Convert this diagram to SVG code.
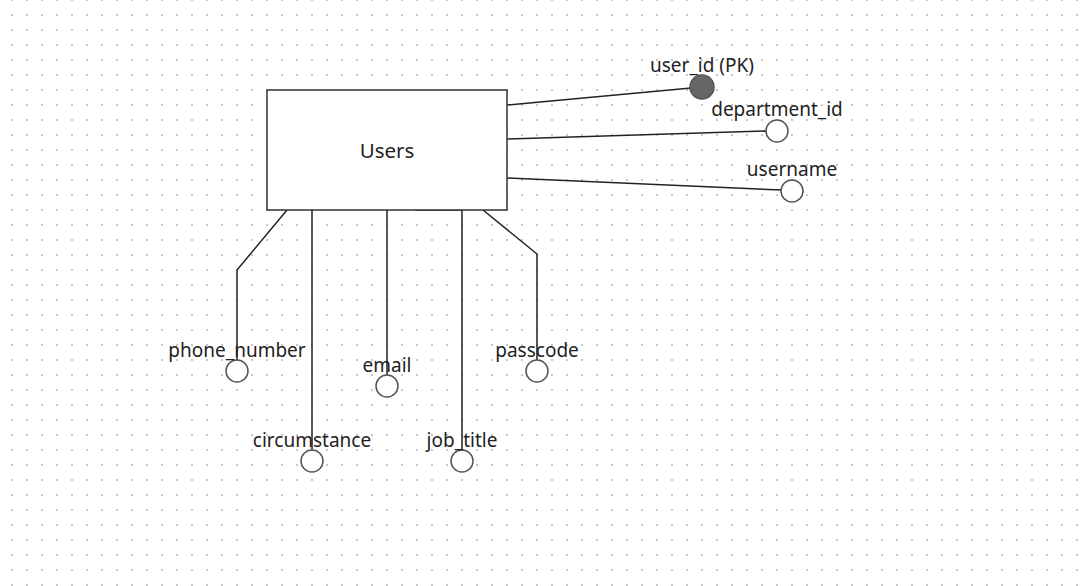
<svg xmlns="http://www.w3.org/2000/svg" width="1081" height="586" viewBox="0 0 1081 586">
<defs>
<pattern id="dots" x="11" y="-1" width="15" height="15" patternUnits="userSpaceOnUse">
<rect x="0" y="0" width="2" height="2" fill="#c8c8c8"/>
</pattern>
<style>
.lbl{font-family:"Noto Sans","Open Sans",sans-serif;font-size:19px;fill:#222;text-anchor:middle}
.edge{fill:none;stroke:#222;stroke-width:1.5}
.attr{fill:#fff;stroke:#555;stroke-width:1.5}
</style>
</defs>
<rect width="1081" height="586" fill="#fff"/>
<rect width="1081" height="586" fill="url(#dots)"/>
<g id="connectors">
<path class="edge" d="M507,105 L691,88"/>
<path class="edge" d="M507,139 L766,131"/>
<path class="edge" d="M507,178 L781,190"/>
<path class="edge" d="M287,210 L237,270 L237,360"/>
<path class="edge" d="M312,210 L312,450"/>
<path class="edge" d="M387,210 L387,375"/>
<path class="edge" d="M415,210 L462,210 L462,450"/>
<path class="edge" d="M483,210 L537,254 L537,360"/>
</g>
<g id="users">
<rect x="267" y="90" width="240" height="120" fill="#fff" stroke="#333" stroke-width="1.5"/>
<text class="lbl" x="387" y="158" style="font-size:20.5px">Users</text>
</g>
<g id="user_id">
<circle cx="702" cy="87" r="12" fill="#666" stroke="#555" stroke-width="1.5"/>
<text class="lbl" x="702" y="72">user_id (PK)</text>
</g>
<g id="department_id">
<circle class="attr" cx="777" cy="131" r="11"/>
<text class="lbl" x="777" y="116">department_id</text>
</g>
<g id="username">
<circle class="attr" cx="792" cy="191" r="11"/>
<text class="lbl" x="792" y="176">username</text>
</g>
<g id="phone_number">
<circle class="attr" cx="237" cy="371" r="11"/>
<text class="lbl" x="237" y="357">phone_number</text>
</g>
<g id="circumstance">
<circle class="attr" cx="312" cy="461" r="11"/>
<text class="lbl" x="312" y="447">circumstance</text>
</g>
<g id="email">
<circle class="attr" cx="387" cy="386" r="11"/>
<text class="lbl" x="387" y="372">email</text>
</g>
<g id="job_title">
<circle class="attr" cx="462" cy="461" r="11"/>
<text class="lbl" x="462" y="447">job_title</text>
</g>
<g id="passcode">
<circle class="attr" cx="537" cy="371" r="11"/>
<text class="lbl" x="537" y="357">passcode</text>
</g>
</svg>
